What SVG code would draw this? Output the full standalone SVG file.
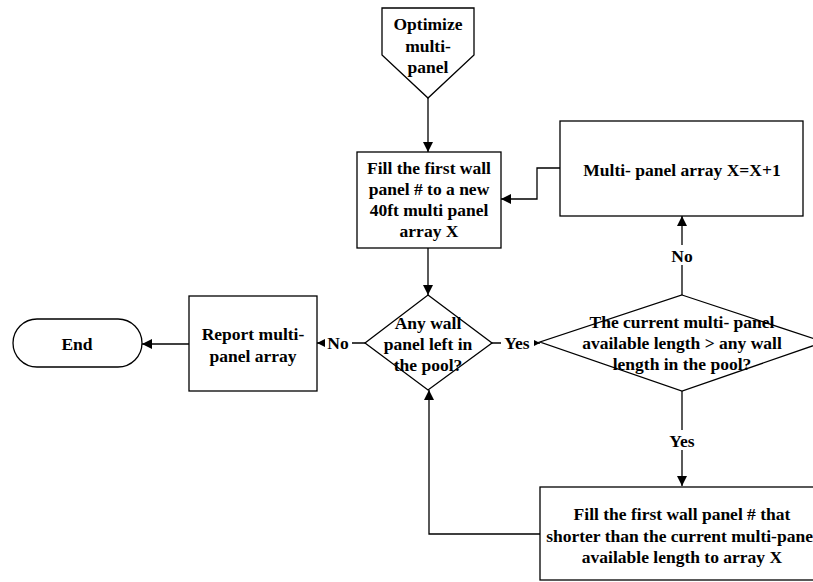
<svg xmlns="http://www.w3.org/2000/svg" width="813" height="582" viewBox="0 0 813 582">
  <style>
    .shape { fill: #ffffff; stroke: #000000; stroke-width: 1.3; }
    .wire { fill: none; stroke: #000000; stroke-width: 1.3; }
    text { font-family: "Liberation Serif", "Times New Roman", serif; font-weight: bold; font-size: 17.5px; fill: #000000; text-anchor: middle; }
    .lbl { fill: #ffffff; }
  </style>
  <defs>
    <marker id="arrow" viewBox="0 0 10 10" refX="10" refY="5" markerWidth="10" markerHeight="10" markerUnits="userSpaceOnUse" orient="auto">
      <path d="M0,0 L10,5 L0,10 z" fill="#000000"/>
    </marker>
  </defs>
  <rect width="813" height="582" fill="#ffffff"/>

  <!-- connectors -->
  <g id="connectors">
    <path class="wire" d="M428,98 V152" marker-end="url(#arrow)"/>
    <path class="wire" d="M428,248 V295" marker-end="url(#arrow)"/>
    <path class="wire" d="M560,168 H537 V199 H501" marker-end="url(#arrow)"/>
    <path class="wire" d="M682,295 V216" marker-end="url(#arrow)"/>
    <path class="wire" d="M365,343 H317" marker-end="url(#arrow)"/>
    <path class="wire" d="M189,344 H142" marker-end="url(#arrow)"/>
    <path class="wire" d="M492,343 H540" marker-end="url(#arrow)"/>
    <path class="wire" d="M682,391 V486" marker-end="url(#arrow)"/>
    <path class="wire" d="M540,534 H429 V390" marker-end="url(#arrow)"/>
    <!-- branch labels -->
    <rect class="lbl" x="325" y="334" width="27" height="18"/>
    <text x="338" y="349">No</text>
    <rect class="lbl" x="501" y="334" width="33" height="18"/>
    <text x="517" y="349">Yes</text>
    <rect class="lbl" x="667" y="245" width="30" height="20"/>
    <text x="682" y="262">No</text>
    <rect class="lbl" x="664" y="430" width="36" height="20"/>
    <text x="682" y="447">Yes</text>
  </g>

  <g id="start">
    <path class="shape" d="M382,8 H474 V55 L428,98 L382,55 Z"/>
    <text x="428" y="30">Optimize</text>
    <text x="428" y="52">multi-</text>
    <text x="428" y="73">panel</text>
  </g>

  <g id="fill-new-array">
    <rect class="shape" x="357" y="152" width="144" height="96"/>
    <text x="429" y="174">Fill the first wall</text>
    <text x="429" y="195">panel # to a new</text>
    <text x="429" y="216">40ft multi panel</text>
    <text x="429" y="237">array X</text>
  </g>

  <g id="next-array">
    <rect class="shape" x="560" y="121" width="243" height="95"/>
    <text x="682" y="176">Multi- panel array X=X+1</text>
  </g>

  <g id="any-wall-left">
    <path class="shape" d="M428,295 L492,343 L428,390 L365,343 Z"/>
    <text x="428" y="329">Any wall</text>
    <text x="428" y="350">panel left in</text>
    <text x="428" y="371">the pool?</text>
  </g>

  <g id="length-check">
    <path class="shape" d="M682,295 L824,342 L682,391 L540,342 Z"/>
    <text x="682" y="328">The current multi- panel</text>
    <text x="682" y="349">available length &gt; any wall</text>
    <text x="682" y="370">length in the pool?</text>
  </g>

  <g id="report">
    <rect class="shape" x="189" y="296" width="128" height="95"/>
    <text x="253" y="340">Report multi-</text>
    <text x="253" y="362">panel array</text>
  </g>

  <g id="end">
    <rect class="shape" x="13" y="319" width="129" height="48" rx="24" ry="24"/>
    <text x="77" y="350">End</text>
  </g>

  <g id="fill-shorter">
    <rect class="shape" x="540" y="487" width="284" height="93"/>
    <text x="682" y="520">Fill the first wall panel # that</text>
    <text x="682" y="542">shorter than the current multi-panel</text>
    <text x="682" y="563">available length to array X</text>
  </g>
</svg>
